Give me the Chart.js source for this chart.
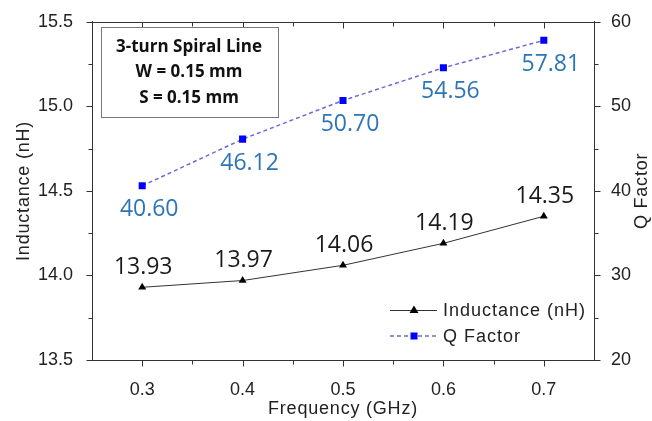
<!DOCTYPE html>
<html><head><meta charset="utf-8">
<script src="https://cdn.jsdelivr.net/npm/chart.js@4/dist/chart.umd.min.js"></script>
<style>html,body{margin:0;padding:0;background:#fff}</style>
</head><body>
<canvas id="c" width="652" height="421"></canvas>
<script>
const frequencies = [0.3, 0.4, 0.5, 0.6, 0.7];
const inductance = [13.93, 13.97, 14.06, 14.19, 14.35];
const qFactor = [40.60, 46.12, 50.70, 54.56, 57.81];
const xTickValues = [0.3, 0.4, 0.5, 0.6, 0.7];
const xMinorValues = [0.35, 0.45, 0.55, 0.65];
const yTickValues = [13.5, 14.0, 14.5, 15.0, 15.5];
const yMinorValues = [13.75, 14.25, 14.75, 15.25];
const y1TickValues = [20, 30, 40, 50, 60];
const y1MinorValues = [25, 35, 45, 55];
const boxLines = ['3-turn Spiral Line', 'W = 0.15 mm', 'S = 0.15 mm'];
const seriesNames = ['Inductance (nH)', 'Q Factor'];
const axisTitles = {x: 'Frequency (GHz)', y: 'Inductance (nH)', y1: 'Q Factor'};

const AX = '#333';
const TICKFONT = {family: '"Liberation Sans", Arial, sans-serif', size: 18};
const LABELFONT = '"Open Sans", sans-serif';

const decor = {
  id: 'decor',
  afterDraw(chart) {
    const {ctx, chartArea: a, scales: {x, y, y1}} = chart;
    ctx.save();
    ctx.strokeStyle = AX; ctx.lineWidth = 1;
    const seg = (x1, y1_, x2, y2) => { ctx.beginPath(); ctx.moveTo(x1, y1_); ctx.lineTo(x2, y2); ctx.stroke(); };
    const top = Math.round(a.top) + 0.5, bot = Math.round(a.bottom) + 0.5;
    const lft = Math.round(a.left) + 0.5, rgt = Math.round(a.right) + 0.5;
    seg(a.left, top, a.right + 1, top);
    xTickValues.forEach(v => { const p = Math.round(x.getPixelForValue(v)) + 0.5; seg(p, bot, p, bot + 6); seg(p, top, p, top + 6); });
    xMinorValues.forEach(v => { const p = Math.round(x.getPixelForValue(v)) + 0.5; seg(p, bot, p, bot + 4); seg(p, top, p, top + 4); });
    yTickValues.forEach(v => { const p = Math.round(y.getPixelForValue(v)) + 0.5; seg(lft - 6, p, lft, p); });
    yMinorValues.forEach(v => { const p = Math.round(y.getPixelForValue(v)) + 0.5; seg(lft - 4, p, lft, p); });
    y1TickValues.forEach(v => { const p = Math.round(y1.getPixelForValue(v)) + 0.5; seg(rgt, p, rgt + 6, p); });
    y1MinorValues.forEach(v => { const p = Math.round(y1.getPixelForValue(v)) + 0.5; seg(rgt, p, rgt + 4, p); });

    // data labels
    ctx.textAlign = 'center'; ctx.textBaseline = 'middle';
    ctx.font = '23px ' + LABELFONT;
    ctx.fillStyle = '#1a1a1a';
    frequencies.forEach((f, i) => ctx.fillText(inductance[i].toFixed(2), x.getPixelForValue(f) + 1, y.getPixelForValue(inductance[i]) - 20));
    ctx.fillStyle = '#2e75b6';
    frequencies.forEach((f, i) => ctx.fillText(qFactor[i].toFixed(2), x.getPixelForValue(f) + 7, y1.getPixelForValue(qFactor[i]) + 24));

    // text box
    ctx.fillStyle = '#fff';
    ctx.fillRect(101, 27, 177, 90);
    ctx.strokeStyle = '#777';
    ctx.strokeRect(101.5, 27.5, 177, 90);
    ctx.fillStyle = '#111';
    ctx.font = 'bold 17px ' + LABELFONT;
    boxLines.forEach((t, i) => ctx.fillText(t, 189, 47 + i * 25.5));

    // legend
    ctx.textAlign = 'left';
    ctx.font = '18px "Liberation Sans", Arial, sans-serif';
    ctx.letterSpacing = '1px';
    ctx.fillStyle = '#222';
    ctx.strokeStyle = '#333'; ctx.lineWidth = 1;
    seg(390, 310.5, 437, 310.5);
    ctx.fillStyle = '#000';
    ctx.beginPath(); ctx.moveTo(414, 305.5); ctx.lineTo(418.5, 313); ctx.lineTo(409.5, 313); ctx.closePath(); ctx.fill();
    ctx.fillStyle = '#222';
    ctx.fillText(seriesNames[0], 443, 311);
    ctx.strokeStyle = '#6b6bd6'; ctx.lineWidth = 1.5; ctx.setLineDash([4, 3]);
    seg(390, 336, 437, 336);
    ctx.setLineDash([]);
    ctx.fillStyle = '#0000ff';
    ctx.fillRect(410.5, 332.5, 7, 7);
    ctx.fillStyle = '#222';
    ctx.fillText(seriesNames[1], 443, 337);

    // axis titles
    ctx.letterSpacing = '0.8px';
    ctx.textAlign = 'center';
    ctx.font = '18px "Liberation Sans", Arial, sans-serif';
    ctx.fillText(axisTitles.x, (a.left + a.right) / 2, 409);
    ctx.save(); ctx.translate(24, (a.top + a.bottom) / 2); ctx.rotate(-Math.PI / 2); ctx.fillText(axisTitles.y, 0, 0); ctx.restore();
    ctx.save(); ctx.translate(642, (a.top + a.bottom) / 2); ctx.rotate(-Math.PI / 2); ctx.fillText(axisTitles.y1, 0, 0); ctx.restore();
    ctx.restore();
  }
};

new Chart(document.getElementById('c'), {
  type: 'line',
  data: {
    datasets: [
      {
        label: seriesNames[0],
        data: frequencies.map((f, i) => ({x: f, y: inductance[i]})),
        yAxisID: 'y',
        borderColor: '#333', borderWidth: 1,
        pointStyle: 'triangle', pointRadius: 4.6,
        pointBackgroundColor: '#000', pointBorderColor: '#000', pointBorderWidth: 0
      },
      {
        label: seriesNames[1],
        data: frequencies.map((f, i) => ({x: f, y: qFactor[i]})),
        yAxisID: 'y1',
        borderColor: '#6b6bd6', borderWidth: 1.5, borderDash: [4, 3],
        pointStyle: 'rect', pointRadius: 5,
        pointBackgroundColor: '#0000ff', pointBorderColor: '#0000ff', pointBorderWidth: 0
      }
    ]
  },
  options: {
    responsive: false, animation: false, devicePixelRatio: 1,
    layout: {padding: {top: 20, left: 0, right: 0, bottom: 0}},
    plugins: {legend: {display: false}, tooltip: {enabled: false}},
    scales: {
      x: {
        type: 'linear', position: 'bottom', min: 0.25, max: 0.75,
        afterBuildTicks: s => { s.ticks = xTickValues.map(v => ({value: v})); },
        afterFit: s => { s.height = 61; },
        grid: {display: false},
        border: {display: true, color: AX, width: 1},
        ticks: {font: TICKFONT, color: '#222', padding: 11, maxRotation: 0, callback: v => v.toFixed(1)}
      },
      y: {
        type: 'linear', position: 'left', min: 13.5, max: 15.5,
        afterBuildTicks: s => { s.ticks = yTickValues.map(v => ({value: v})); },
        afterFit: s => { s.width = 92; },
        grid: {display: false},
        border: {display: true, color: AX, width: 1},
        ticks: {font: TICKFONT, color: '#222', padding: 11, callback: v => v.toFixed(1)}
      },
      y1: {
        type: 'linear', position: 'right', min: 20, max: 60,
        afterBuildTicks: s => { s.ticks = y1TickValues.map(v => ({value: v})); },
        afterFit: s => { s.width = 58; },
        grid: {display: false},
        border: {display: true, color: AX, width: 1},
        ticks: {font: TICKFONT, color: '#222', padding: 9, callback: v => String(v)}
      }
    }
  },
  plugins: [decor]
});
</script>
</body></html>
